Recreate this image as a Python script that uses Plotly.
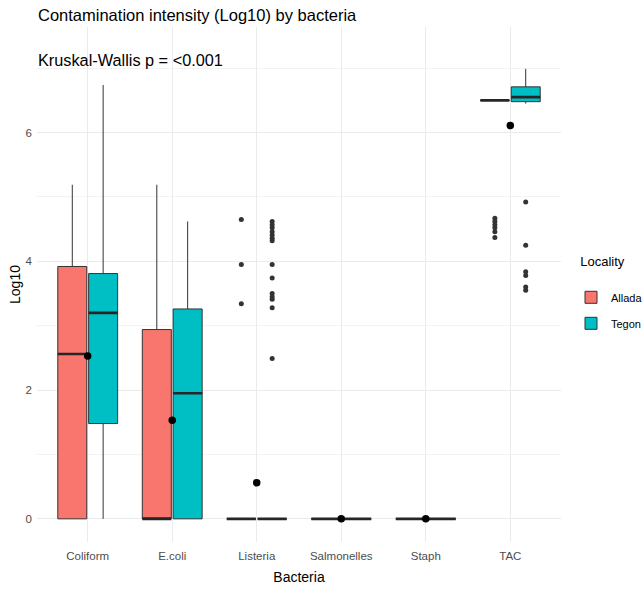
import plotly.graph_objects as go

# ---------------- data ----------------
bacteria = ["Coliform", "E.coli", "Listeria", "Salmonelles", "Staph", "TAC"]

allada_q1 = [0.0, 0.0, 0.0, 0.0, 0.0, 6.50]
allada_median = [2.56, 0.0, 0.0, 0.0, 0.0, 6.50]
allada_q3 = [3.92, 2.94, 0.0, 0.0, 0.0, 6.50]
allada_lower = [0.0, 0.0, 0.0, 0.0, 0.0, 6.50]
allada_upper = [5.19, 5.19, 0.0, 0.0, 0.0, 6.50]

tegon_q1 = [1.48, 0.0, 0.0, 0.0, 0.0, 6.48]
tegon_median = [3.20, 1.95, 0.0, 0.0, 0.0, 6.55]
tegon_q3 = [3.81, 3.26, 0.0, 0.0, 0.0, 6.71]
tegon_lower = [0.0, 0.0, 0.0, 0.0, 0.0, 6.45]
tegon_upper = [6.74, 4.62, 0.0, 0.0, 0.0, 6.99]

allada_out_cat = ["Listeria"] * 3 + ["TAC"] * 6
allada_out_val = [4.65, 3.95, 3.34, 4.67, 4.62, 4.57, 4.52, 4.46, 4.37]

tegon_out_cat = ["Listeria"] * 14 + ["TAC"] * 6
tegon_out_val = [4.62, 4.57, 4.52, 4.46, 4.41, 4.36, 4.32, 3.95, 3.74, 3.50,
                 3.45, 3.41, 3.28, 2.49,
                 4.92, 4.25, 3.84, 3.78, 3.60, 3.55]

mean_val = [2.53, 1.53, 0.56, 0.0, 0.0, 6.11]

localities = ["Allada", "Tegon"]
colors = {"Allada": "#F8766D", "Tegon": "#00BFC4"}

stats = {
    "Allada": (allada_q1, allada_median, allada_q3, allada_lower, allada_upper,
               allada_out_cat, allada_out_val),
    "Tegon": (tegon_q1, tegon_median, tegon_q3, tegon_lower, tegon_upper,
              tegon_out_cat, tegon_out_val),
}

FONT = "Liberation Sans, Arial, sans-serif"
fig = go.Figure()

for loc in localities:
    q1, med, q3, lo, hi, ocat, oval = stats[loc]
    fig.add_trace(go.Box(
        name=loc, x=bacteria, q1=q1, median=med, q3=q3,
        lowerfence=lo, upperfence=hi,
        fillcolor=colors[loc], line=dict(color="#333333", width=1),
        whiskerwidth=0, boxpoints=False,
        offsetgroup=loc, alignmentgroup="g", legendgroup=loc,
        hoverinfo="skip",
    ))
    # thick median line (ggplot style)
    fig.add_trace(go.Box(
        name=loc, x=bacteria, q1=med, median=med, q3=med,
        lowerfence=med, upperfence=med,
        fillcolor="rgba(0,0,0,0)", line=dict(color="#262626", width=2.6),
        whiskerwidth=0, boxpoints=False,
        offsetgroup=loc, alignmentgroup="g", legendgroup=loc,
        showlegend=False, hoverinfo="skip",
    ))
    # outliers
    fig.add_trace(go.Box(
        name=loc, x=ocat, y=oval,
        boxpoints="all", jitter=0, pointpos=0,
        fillcolor="rgba(0,0,0,0)", line=dict(color="rgba(0,0,0,0)", width=0),
        whiskerwidth=0,
        marker=dict(color="#333333", size=5),
        offsetgroup=loc, alignmentgroup="g", legendgroup=loc,
        showlegend=False,
    ))

fig.add_trace(go.Scatter(
    x=bacteria, y=mean_val, mode="markers",
    marker=dict(color="black", size=7.5),
    showlegend=False,
))

fig.add_annotation(
    text="Kruskal-Wallis p = <0.001", xref="paper", yref="y",
    x=-0.002, y=7.12, xanchor="left", yanchor="middle", showarrow=False,
    font=dict(family=FONT, size=16.3, color="black"),
)

fig.update_layout(
    width=642, height=590,
    margin=dict(l=37, r=81, t=27, b=48, autoexpand=False),
    paper_bgcolor="white", plot_bgcolor="white",
    boxmode="group", boxgap=0.27, boxgroupgap=0.06,
    font=dict(family=FONT, color="#4D4D4D"),
    title=dict(text="Contamination intensity (Log10) by bacteria",
               x=38 / 642, xref="container", xanchor="left",
               y=1 - 15 / 590, yref="container", yanchor="middle",
               font=dict(family=FONT, size=16.5, color="black")),
    legend=dict(
        title=dict(text="&nbsp;&nbsp;Locality<br> ",
                   font=dict(family=FONT, size=13, color="black")),
        font=dict(family=FONT, size=11, color="black"),
        xref="container", yref="container",
        x=571 / 642, xanchor="left", y=1 - 249 / 590, yanchor="top",
        tracegroupgap=7, bgcolor="rgba(0,0,0,0)",
    ),
    xaxis=dict(
        type="category", categoryorder="array", categoryarray=bacteria,
        range=[-0.6, 5.6], automargin=False,
        showgrid=True, gridcolor="#EBEBEB", gridwidth=1,
        zeroline=False, showline=False, ticks="",
        tickfont=dict(family=FONT, size=11.5, color="#4D4D4D"),
        ticklabelstandoff=5,
        title=dict(text="Bacteria", font=dict(family=FONT, size=14, color="black"),
                   standoff=11),
    ),
    yaxis=dict(
        range=[-0.36, 7.64], dtick=2, tick0=0, automargin=False,
        showgrid=True, gridcolor="#EBEBEB", gridwidth=1,
        minor=dict(dtick=1, tick0=0, showgrid=True, gridcolor="#F3F3F3", gridwidth=0.8),
        zeroline=False, showline=False, ticks="",
        tickfont=dict(family=FONT, size=11.5, color="#4D4D4D"),
        ticklabelstandoff=4,
        title=dict(text="Log10", font=dict(family=FONT, size=14, color="black"),
                   standoff=1),
    ),
)

fig.write_html("out.html",
               config={"displayModeBar": False},
               post_script="document.body.style.margin='0px';"
                           "document.body.style.padding='0px';")
